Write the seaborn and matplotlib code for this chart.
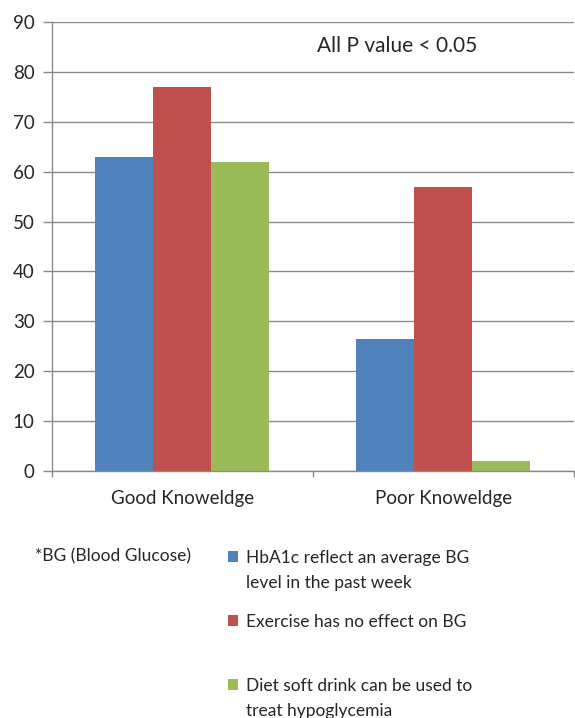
import matplotlib
matplotlib.use("Agg")
import matplotlib.pyplot as plt
import seaborn as sns
import pandas as pd
from matplotlib.patches import Patch

# Data
groups = ["Good Knoweldge", "Poor Knoweldge"]
statements = [
    "HbA1c reflect an average BG\nlevel in the past week",
    "Exercise has no effect on BG",
    "Diet soft drink can be used to\ntreat hypoglycemia",
]
hba1c_values = [63, 26.4]
exercise_values = [77, 57]
diet_drink_values = [62, 2]
y_ticks = [0, 10, 20, 30, 40, 50, 60, 70, 80, 90]

colors = ["#4F81BD", "#C0504D", "#9BBB59"]

series = [hba1c_values, exercise_values, diet_drink_values]
df = pd.DataFrame(
    [(g, s, v[i]) for s, v in zip(statements, series) for i, g in enumerate(groups)],
    columns=["group", "statement", "percent"],
)

sns.set_theme(style="white")
plt.rcParams["font.family"] = ["Lato", "DejaVu Sans"]

text_color = "#262626"
grid_color = "#8a8a8a"

fig = plt.figure(figsize=(5.75, 7.18), dpi=100)
ax = fig.add_axes([0.0904, 0.344, 0.9076, 0.6254])

sns.barplot(
    data=df, x="group", y="percent", hue="statement",
    hue_order=statements, order=groups, palette=colors,
    width=0.667, gap=0, saturation=1, edgecolor="none",
    linewidth=0, legend=False, ax=ax,
)

ax.set_ylim(0, 90)
ax.set_xlim(-0.5, 1.5)
ax.set_yticks(y_ticks)
ax.yaxis.grid(True, color=grid_color, linewidth=1)
ax.set_axisbelow(True)
ax.set_xlabel("")
ax.set_ylabel("")

for side in ["top", "right"]:
    ax.spines[side].set_visible(False)
for side in ["left", "bottom"]:
    ax.spines[side].set_color(grid_color)
    ax.spines[side].set_linewidth(1)

ax.tick_params(axis="y", which="major", left=True, length=6.5, width=1,
               color=grid_color, labelsize=13.5, labelcolor=text_color, pad=6)
ax.tick_params(axis="x", which="major", length=0, labelsize=13.5,
               labelcolor=text_color, pad=14)
ax.set_xticks([-0.5, 0.5, 1.5], minor=True)
ax.tick_params(axis="x", which="minor", bottom=True, length=4.5, width=1,
               color=grid_color)

ax.text(0.824, 85.2, "All P value < 0.05", fontsize=15, color=text_color,
        ha="center", va="center")

fig.text(0.061, 0.225, "*BG (Blood Glucose)", fontsize=12.5, color=text_color,
         ha="left", va="center")


def legend_block(lines, color, top):
    """One legend block: coloured square on the first line, plain text after."""
    handles = [Patch(facecolor=color, edgecolor="none")]
    handles += [Patch(facecolor="none", edgecolor="none")] * (len(lines) - 1)
    leg = fig.legend(
        handles=handles, labels=lines, loc="upper left",
        bbox_to_anchor=(0.396, top), frameon=False,
        fontsize=12.5, handlelength=0.6, handleheight=0.6,
        handletextpad=0.45, borderpad=0, borderaxespad=0,
        labelspacing=0.5, labelcolor=text_color,
    )
    return leg


# first-line centres of each legend block, in figure fraction
legend_y = [0.2242, 0.135, 0.046]
for stmt, col, y in zip(statements, colors, legend_y):
    legend_block(stmt.split("\n"), col, y + 0.0097)

fig.savefig("out.png", dpi=100)
